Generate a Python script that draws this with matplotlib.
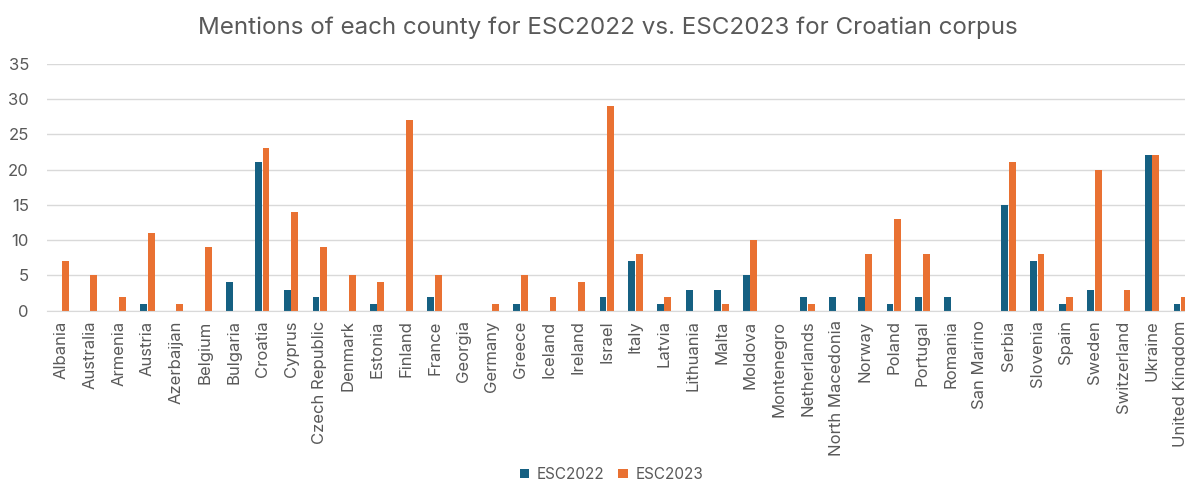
import numpy as np
import matplotlib
matplotlib.use('Agg')
import matplotlib.pyplot as plt

countries = ['Albania', 'Australia', 'Armenia', 'Austria', 'Azerbaijan', 'Belgium', 'Bulgaria',
             'Croatia', 'Cyprus', 'Czech Republic', 'Denmark', 'Estonia', 'Finland', 'France',
             'Georgia', 'Germany', 'Greece', 'Iceland', 'Ireland', 'Israel', 'Italy', 'Latvia',
             'Lithuania', 'Malta', 'Moldova', 'Montenegro', 'Netherlands', 'North Macedonia',
             'Norway', 'Poland', 'Portugal', 'Romania', 'San Marino', 'Serbia', 'Slovenia',
             'Spain', 'Sweden', 'Switzerland', 'Ukraine', 'United Kingdom']
esc2022 = [0, 0, 0, 1, 0, 0, 4, 21, 3, 2, 0, 1, 0, 2, 0, 0, 1, 0, 0, 2, 7, 1, 3, 3, 5, 0,
           2, 2, 2, 1, 2, 2, 0, 15, 7, 1, 3, 0, 22, 1]
esc2023 = [7, 5, 2, 11, 1, 9, 0, 23, 14, 9, 5, 4, 27, 5, 0, 1, 5, 2, 4, 29, 8, 2, 0, 1, 10, 0,
           1, 0, 8, 13, 8, 0, 0, 21, 8, 2, 20, 3, 22, 2]

plt.rcParams['font.family'] = ['Inter', 'DejaVu Sans']
text_col = '#595959'

fig = plt.figure(figsize=(11.85, 4.82), dpi=100)
ax = fig.add_axes([0.0397, 0.3554, 0.9688, 0.5125])

x = np.arange(len(countries))
w = 0.24
ax.bar(x - 0.13, esc2022, w, color='#156082', label='ESC2022', zorder=3)
ax.bar(x + 0.13, esc2023, w, color='#E97132', label='ESC2023', zorder=3)

ax.set_xlim(-0.5, len(countries) - 0.5)
ax.set_ylim(0, 35)
ax.set_yticks(range(0, 36, 5))
ax.set_xticks(x)
ax.set_xticklabels(countries, rotation=90, fontsize=12, color=text_col)
ax.tick_params(axis='y', labelsize=12, labelcolor=text_col, length=0, pad=13)
ax.tick_params(axis='x', length=0, pad=7)
ax.grid(axis='y', color='#d9d9d9', linewidth=1, zorder=0)
for s in ['top', 'right', 'left']:
    ax.spines[s].set_visible(False)
ax.spines['bottom'].set_color('#d9d9d9')
ax.spines['bottom'].set_zorder(4)

fig.suptitle('Mentions of each county for ESC2022 vs. ESC2023 for Croatian corpus',
             fontsize=17.4, color=text_col, x=0.5127, y=0.966)
fig.legend(loc='lower center', bbox_to_anchor=(0.516, -0.028), ncol=2, frameon=False,
           fontsize=11, labelcolor=text_col, handlelength=0.6, handleheight=0.6,
           columnspacing=0.9, handletextpad=0.5)

fig.savefig('out.png', dpi=100)
